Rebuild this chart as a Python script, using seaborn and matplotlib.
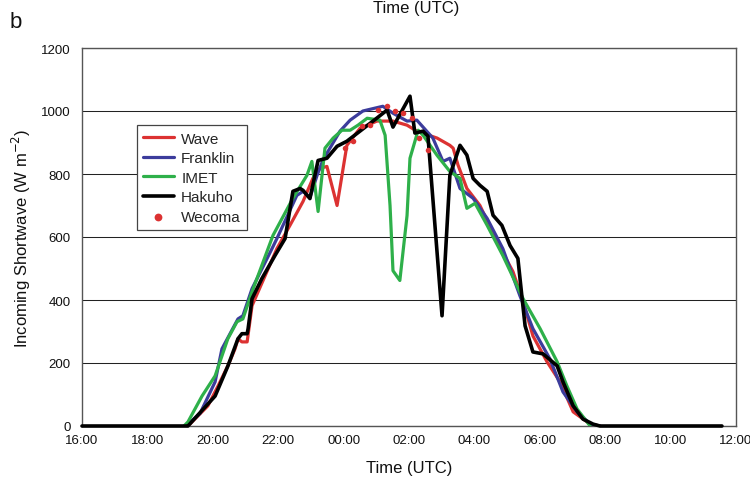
import matplotlib
matplotlib.use("Agg")
import matplotlib.pyplot as plt
import seaborn as sns
import pandas as pd

# Hours elapsed since 16:00 UTC, and incoming shortwave (W m-2)
wave_t = [3.24, 3.85, 4.16, 4.46, 4.68, 4.77, 4.89, 5.05, 5.20, 5.60, 5.96, 6.36,
          6.76, 7.06, 7.28, 7.49, 7.80, 8.10, 8.50, 9.02, 9.51, 9.94, 10.24, 10.86,
          11.25, 11.35, 11.50, 11.77, 12.17, 12.69, 13.18, 13.49, 13.79, 14.22,
          14.62, 15.02, 15.54, 15.84]
wave_v = [0, 64, 127, 191, 245, 277, 267, 267, 382, 477, 563, 637,
          713, 786, 818, 824, 700, 891, 945, 968, 968, 955, 936, 914,
          891, 882, 828, 754, 700, 585, 490, 395, 286, 204,
          140, 45, 6, 0]

franklin_t = [3.18, 3.61, 4.07, 4.28, 4.77, 4.92, 5.20, 5.81, 5.96, 6.57, 6.76,
              6.97, 7.19, 7.37, 7.89, 8.20, 8.59, 9.20, 9.51, 9.94, 10.24, 10.73,
              11.04, 11.25, 11.56, 11.96, 12.39, 12.87, 13.39, 13.79, 14.31, 14.71,
              15.14, 15.54, 15.84]
franklin_v = [0, 40, 140, 245, 340, 350, 436, 563, 595, 732, 745,
              725, 796, 845, 936, 971, 1000, 1015, 993, 968, 971, 914,
              840, 850, 754, 723, 659, 563, 414, 309, 213, 108,
              45, 6, 0]

imet_t = [3.12, 3.24, 3.67, 4.07, 4.46, 4.74, 4.92, 5.20, 5.84, 6.45, 6.88, 7.03,
          7.22, 7.43, 7.68, 7.95, 8.20, 8.44, 8.72, 9.11, 9.27, 9.42, 9.51, 9.72,
          9.94, 10.03, 10.28, 10.43, 10.86, 11.25, 11.56, 11.77, 12.02, 12.39,
          12.87, 13.49, 14.01, 14.53, 14.83, 15.14, 15.54]
imet_v = [0, 13, 95, 159, 277, 331, 340, 426, 605, 723, 796, 840,
          681, 882, 914, 939, 939, 955, 977, 971, 923, 700, 493, 462,
          668, 850, 939, 923, 859, 808, 786, 691, 707, 637,
          541, 404, 309, 204, 127, 54, 0]

hakuho_t = [0.00, 3.18, 3.24, 4.07, 4.46, 4.77, 4.89, 5.05, 5.08, 5.20, 5.50, 5.90,
            6.21, 6.45, 6.67, 6.76, 6.97, 7.22, 7.49, 7.80, 8.10, 8.50, 8.90,
            9.33, 9.51, 10.03, 10.18, 10.43, 10.58, 11.01, 11.25, 11.56, 11.77,
            11.96, 12.17, 12.39, 12.57, 12.84, 13.09, 13.33, 13.46, 13.55, 13.79,
            14.10, 14.53, 14.71, 15.02, 15.32, 15.63, 15.84, 19.57]
hakuho_v = [0, 0, 0, 95, 190, 277, 293, 293, 309, 404, 468, 541,
            595, 745, 754, 748, 722, 843, 850, 888, 904, 936, 968,
            1003, 949, 1047, 930, 936, 920, 350, 796, 891, 860,
            786, 764, 745, 669, 637, 573, 532, 404, 318, 235,
            229, 191, 140, 64, 22, 6, 0, 0]

wecoma_t = [8.04, 8.29, 8.56, 8.81, 9.05, 9.33, 9.57, 9.82, 10.09, 10.31, 10.58]
wecoma_v = [882, 904, 952, 955, 1003, 1015, 1000, 993, 977, 914, 876]

tick_hours = [0, 2, 4, 6, 8, 10, 12, 14, 16, 18, 20]
tick_labels = ["16:00", "18:00", "20:00", "22:00", "00:00", "02:00",
               "04:00", "06:00", "08:00", "10:00", "12:00"]
y_ticks = [0, 200, 400, 600, 800, 1000, 1200]

series = [
    ("Wave", wave_t, wave_v, "#dc3232", 2.3),
    ("Franklin", franklin_t, franklin_v, "#3c3c9c", 2.3),
    ("IMET", imet_t, imet_v, "#2eb04a", 2.3),
    ("Hakuho", hakuho_t, hakuho_v, "#000000", 2.6),
]

sns.set_theme(style="white")
plt.rcParams["font.family"] = ["Liberation Sans", "DejaVu Sans"]

fig = plt.figure(figsize=(7.5, 4.85), dpi=100)
ax = fig.add_axes([82 / 750, 58 / 485, 654 / 750, 378 / 485])

for name, t, v, color, lw in series:
    df = pd.DataFrame({"t": t, "v": v})
    sns.lineplot(data=df, x="t", y="v", ax=ax, color=color, linewidth=lw,
                 label=name, sort=False, estimator=None,
                 clip_on=(name != "Hakuho"), zorder=3)

wec = pd.DataFrame({"t": wecoma_t, "v": wecoma_v})
sns.scatterplot(data=wec, x="t", y="v", ax=ax, color="#dc3232", s=16,
                linewidth=0, label="Wecoma", zorder=4)

ax.set_xlim(0, 20)
ax.set_ylim(0, 1200)
ax.set_xticks(tick_hours)
ax.set_xticklabels(tick_labels)
ax.set_yticks(y_ticks)
ax.yaxis.grid(True, color="#222222", linewidth=0.75)
ax.xaxis.grid(False)
ax.set_axisbelow(True)
ax.tick_params(axis="x", direction="in", length=4, width=0.8, color="#555555",
               labelsize=9.5, pad=6, labelcolor="#111111")
ax.tick_params(axis="y", length=0, labelsize=9.5, pad=8, labelcolor="#111111")
for side in ["left", "right", "top", "bottom"]:
    ax.spines[side].set_visible(True)
    ax.spines[side].set_color("#555555")
    ax.spines[side].set_linewidth(1.0)

ax.set_xlabel("Time (UTC)", fontsize=12, labelpad=10, color="#111111")
ax.set_ylabel("Incoming Shortwave (W m$^{-2}$)", fontsize=12, labelpad=6,
              color="#111111")

leg = ax.legend(loc="upper left", bbox_to_anchor=(0.084, 0.795), frameon=True,
                fancybox=False, shadow=False, fontsize=11, handlelength=2.0,
                handletextpad=0.5, labelspacing=0.36, borderpad=0.4,
                borderaxespad=0, markerscale=1.4)
leg.get_frame().set_edgecolor("#444444")
leg.get_frame().set_linewidth(0.9)
leg.get_frame().set_facecolor("white")
leg.get_frame().set_alpha(1.0)

fig.text(416 / 750, 1 - 8.5 / 485, "Time (UTC)", ha="center", va="center",
         fontsize=12, color="#111111")
fig.text(10 / 750, 1 - 22 / 485, "b", ha="left", va="center", fontsize=16,
         color="#111111")

fig.savefig("out.png", dpi=100)
